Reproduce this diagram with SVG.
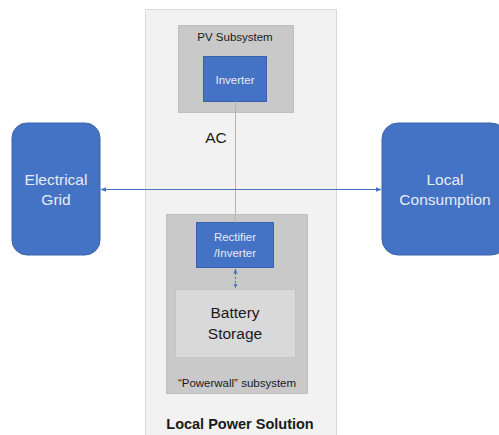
<svg xmlns="http://www.w3.org/2000/svg" width="499" height="435" viewBox="0 0 499 435">
<defs>
<style>
text{font-family:"Liberation Sans","Open Sans",sans-serif;text-anchor:middle}
.blue{fill:#4472c4;stroke:#3a62a8;stroke-width:1}
.wt{fill:#e6ecf7}
.dk{fill:#1a1a1a}
.conn{stroke:#4472c4;stroke-width:1;fill:none}
</style>
<marker id="ah" viewBox="0 0 10 10" refX="9" refY="5" markerWidth="6" markerHeight="6" orient="auto-start-reverse"><path d="M0,1 L10,5 L0,9 z" fill="#4472c4"/></marker>
<marker id="ah2" viewBox="0 0 10 10" refX="9" refY="5" markerWidth="5" markerHeight="5" orient="auto-start-reverse"><path d="M0,1 L10,5 L0,9 z" fill="#4472c4"/></marker>
</defs>
<rect width="499" height="435" fill="#ffffff"/>
<g id="local-power-solution">
<rect x="145.5" y="9.5" width="191" height="430" fill="#f2f2f2" stroke="#d9d9d9"/>
<text x="240" y="429" font-size="14.5" font-weight="bold" class="dk">Local Power Solution</text>
</g>
<g id="pv-subsystem">
<rect x="178.5" y="25.5" width="115" height="87" fill="#c9c9c9" stroke="#bfbfbf"/>
<text x="235" y="41" font-size="11.5" class="dk">PV Subsystem</text>
</g>
<g id="inverter">
<rect x="203.5" y="56.5" width="63" height="45" class="blue"/>
<text x="235" y="84" font-size="11.5" class="wt">Inverter</text>
</g>
<g id="powerwall-subsystem">
<rect x="166.5" y="214.5" width="141" height="179" fill="#c9c9c9" stroke="#bfbfbf"/>
<text x="237" y="387" font-size="11.5" class="dk">“Powerwall” subsystem</text>
</g>
<g id="rectifier-inverter">
<rect x="196.5" y="222.5" width="77" height="45" class="blue"/>
<text x="235" y="241" font-size="11.5" class="wt">Rectifier</text>
<text x="235" y="257" font-size="11.5" class="wt">/Inverter</text>
</g>
<g id="battery-storage">
<rect x="175.5" y="289.5" width="120" height="68" fill="#d9d9d9" stroke="#c4c4c4"/>
<text x="235" y="318" font-size="15.5" class="dk">Battery</text>
<text x="235" y="339" font-size="15.5" class="dk">Storage</text>
</g>
<g id="electrical-grid">
<rect x="12" y="123" width="88" height="132" rx="15" class="blue"/>
<text x="56" y="185" font-size="15.5" class="wt">Electrical</text>
<text x="56" y="205" font-size="15.5" class="wt">Grid</text>
</g>
<g id="local-consumption">
<rect x="382" y="123" width="125" height="132" rx="16" class="blue"/>
<text x="445" y="185" font-size="15.5" class="wt">Local</text>
<text x="445" y="205" font-size="15.5" class="wt">Consumption</text>
</g>
<g id="ac-label">
<text x="216" y="143" font-size="15.5" class="dk">AC</text>
</g>
<g id="connectors">
<line x1="235.5" y1="101.5" x2="235.5" y2="222.5" stroke="#9fb8e3" stroke-width="1"/>
<line x1="101" y1="189.5" x2="381" y2="189.5" class="conn" marker-start="url(#ah)" marker-end="url(#ah)"/>
<line x1="235.5" y1="269" x2="235.5" y2="288" class="conn" stroke-dasharray="2,2" marker-start="url(#ah2)" marker-end="url(#ah2)"/>
</g>
</svg>
